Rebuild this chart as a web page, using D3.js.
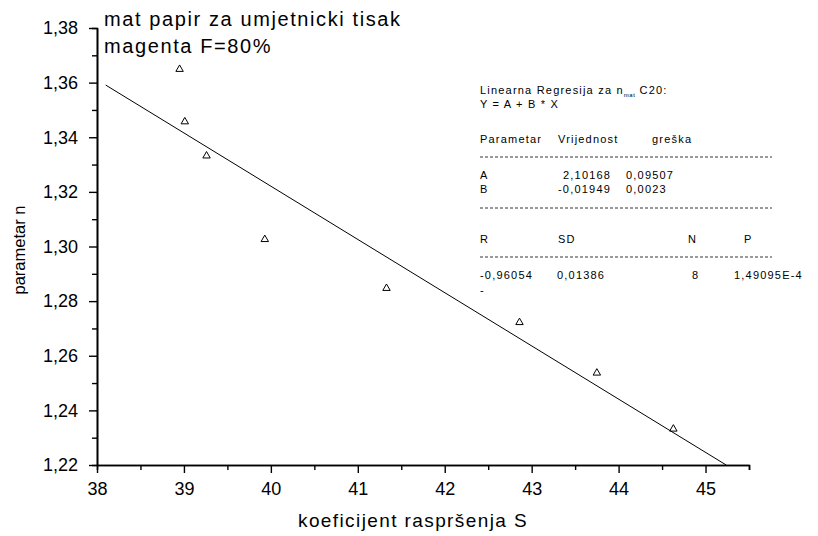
<!DOCTYPE html>
<html>
<head>
<meta charset="utf-8">
<script src="https://cdn.jsdelivr.net/npm/d3@7"></script>
<style>
  html, body { margin: 0; padding: 0; background: #fff; }
  svg { display: block; font-family: "Liberation Sans", Arial, sans-serif; }
</style>
</head>
<body>
<div id="chart"></div>
<script>
'use strict'

// data
const sValues = [38.95, 39.01, 39.26, 39.93, 41.33, 42.86, 43.75, 44.63]
const nValues = [1.3649, 1.3457, 1.3332, 1.3026, 1.2847, 1.2722, 1.2537, 1.2332]

// fit parameters as printed in the box
const fitA = 2.10168
const fitB = -0.01949
const fitStart = 38.1

const xTicks = [38, 39, 40, 41, 42, 43, 44, 45]
const xMinor = [38.5, 39.5, 40.5, 41.5, 42.5, 43.5, 44.5, 45.5]
const yTicks = [1.22, 1.24, 1.26, 1.28, 1.30, 1.32, 1.34, 1.36, 1.38]
const yMinor = [1.23, 1.25, 1.27, 1.29, 1.31, 1.33, 1.35, 1.37]

const titleLines = ['mat papir za umjetnicki tisak', 'magenta F=80%']

////////////////////////////////////
//////////// svg setup /////////////
////////////////////////////////////

const svgWidth = 818
const svgHeight = 536
const margin = { left: 97, right: 69, top: 28, bottom: 71 }
const width = svgWidth - margin.left - margin.right
const height = svgHeight - margin.top - margin.bottom

const svg = d3.select('#chart')
    .append('svg')
    .attr('width', svgWidth)
    .attr('height', svgHeight)

const g = svg.append('g')
    .attr('transform', `translate(${margin.left},${margin.top})`)

const x = d3.scaleLinear().domain([38, 45.5]).range([0, width])
const y = d3.scaleLinear().domain([1.22, 1.38]).range([height, 0])

const fmt = d => d3.format('.2f')(d).replace('.', ',')

////////////////////////////////////
/////////////// axes ///////////////
////////////////////////////////////

// minor ticks first, major on top
g.append('g')
    .attr('transform', `translate(0,${height})`)
    .call(d3.axisBottom(x).tickValues(xMinor).tickSize(5).tickFormat(''))
g.append('g')
    .call(d3.axisLeft(y).tickValues(yMinor).tickSize(5).tickFormat(''))

g.append('g')
    .attr('transform', `translate(0,${height})`)
    .call(d3.axisBottom(x).tickValues(xTicks).tickSize(8).tickSizeOuter(0).tickPadding(9).tickFormat(d3.format('d')))

g.append('g')
    .call(d3.axisLeft(y).tickValues(yTicks).tickSize(8).tickSizeOuter(0).tickPadding(11).tickFormat(fmt))

g.selectAll('.domain').attr('stroke', '#000').attr('stroke-width', 1.6)
g.selectAll('.tick line').attr('stroke', '#000').attr('stroke-width', 1.4)
g.selectAll('.tick text')
    .attr('fill', '#000')
    .style('font-size', '18px')

////////////////////////////////////
//////////// fit + points //////////
////////////////////////////////////

const fitEnd = (1.22 - fitA) / fitB
const fitLine = [fitStart, fitEnd].map(s => [s, fitA + fitB * s])

g.append('path')
    .datum(fitLine)
    .attr('fill', 'none')
    .attr('stroke', '#000')
    .attr('stroke-width', 1)
    .attr('d', d3.line().x(d => x(d[0])).y(d => y(d[1])))

const points = sValues.map((s, i) => ({ s: s, n: nValues[i] }))

g.selectAll('.pt')
    .data(points)
    .join('path')
    .attr('class', 'pt')
    .attr('transform', d => `translate(${x(d.s)},${y(d.n)})`)
    .attr('d', d3.symbol().type(d3.symbolTriangle).size(24))
    .attr('fill', 'none')
    .attr('stroke', '#000')
    .attr('stroke-width', 1)

////////////////////////////////////
/////////////// labels /////////////
////////////////////////////////////

svg.selectAll('.title')
    .data(titleLines)
    .join('text')
    .attr('class', 'title')
    .attr('x', 104)
    .attr('y', (d, i) => 26 + i * 27)
    .style('font-size', '20px')
    .style('letter-spacing', '1.6px')
    .text(d => d)

svg.append('text')
    .attr('transform', 'translate(25,250) rotate(-90)')
    .attr('text-anchor', 'middle')
    .style('font-size', '16.5px')
    .text('parametar n')

svg.append('text')
    .attr('x', 413)
    .attr('y', 527)
    .attr('text-anchor', 'middle')
    .style('font-size', '19px')
    .style('letter-spacing', '1.4px')
    .text('koeficijent raspršenja S')

// regression box
const boxX = 480
const box = svg.append('g')
    .style('font-size', '11px')
    .style('letter-spacing', '1.2px')

const head = box.append('text').attr('x', boxX).attr('y', 94)
head.append('tspan').text('Linearna Regresija za n')
head.append('tspan').attr('dy', 3).style('font-size', '6px').style('letter-spacing', '0.5px').text('mat')
head.append('tspan').attr('dy', -3).text(' C20:')
box.append('text').attr('x', boxX).attr('y', 108).text('Y = A + B * X')

const cells = [
    ['Parametar', boxX, 143], ['Vrijednost', 558, 143], ['greška', 652, 143],
    ['A', boxX, 179], ['2,10168', 563, 179], ['0,09507', 626, 179],
    ['B', boxX, 193], ['-0,01949', 558, 193], ['0,0023', 626, 193],
    ['R', boxX, 243], ['SD', 558, 243], ['N', 688, 243], ['P', 744, 243],
    ['-0,96054', boxX, 279], ['0,01386', 557, 279], ['8', 692, 279], ['1,49095E-4', 734, 279],
    ['-', boxX, 294]
]
box.selectAll('.cell')
    .data(cells)
    .join('text')
    .attr('class', 'cell')
    .attr('x', d => d[1])
    .attr('y', d => d[2])
    .text(d => d[0])

box.selectAll('.dash')
    .data([157, 208, 257])
    .join('line')
    .attr('class', 'dash')
    .attr('x1', boxX)
    .attr('x2', 772)
    .attr('y1', d => d)
    .attr('y2', d => d)
    .attr('stroke', '#000')
    .attr('stroke-width', 0.8)
    .attr('stroke-dasharray', '3,2')
</script>
</body>
</html>
